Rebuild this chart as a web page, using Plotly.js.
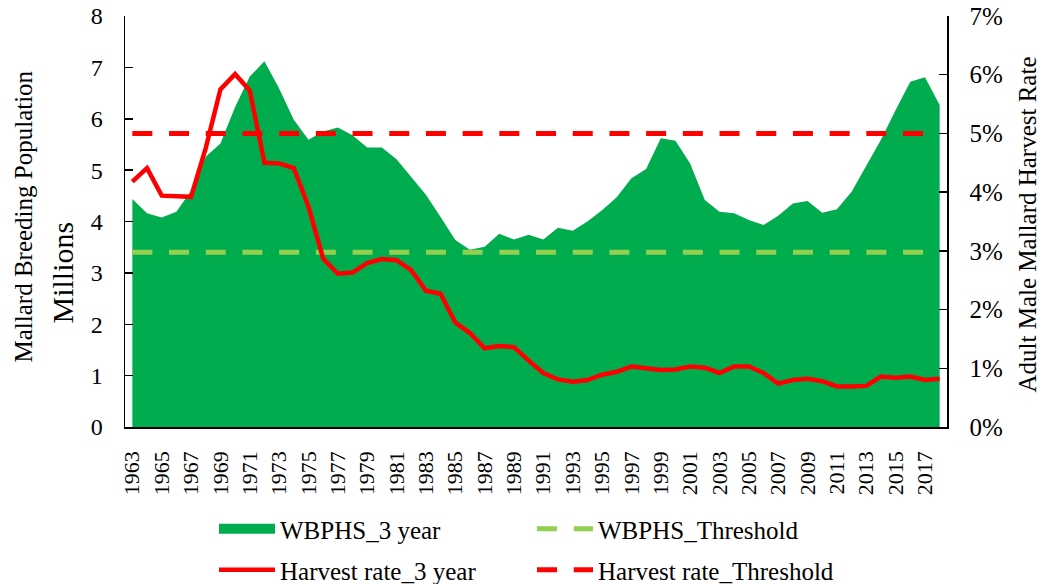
<!DOCTYPE html>
<html>
<head>
<meta charset="utf-8">
<script src="https://cdn.plot.ly/plotly-3.0.1.min.js"></script>
<style>html,body{margin:0;padding:0;background:#fff;}#chart{width:1039px;height:584px;}</style>
</head>
<body>
<div id="chart"></div>
<script>
// ---- data ----
const years = [1963,1964,1965,1966,1967,1968,1969,1970,1971,1972,1973,1974,1975,1976,1977,1978,1979,1980,1981,1982,1983,1984,1985,1986,1987,1988,1989,1990,1991,1992,1993,1994,1995,1996,1997,1998,1999,2000,2001,2002,2003,2004,2005,2006,2007,2008,2009,2010,2011,2012,2013,2014,2015,2016,2017,2018];
const wbphs3yr = [4.44,4.16,4.08,4.19,4.60,5.26,5.52,6.23,6.82,7.12,6.59,5.98,5.59,5.75,5.83,5.68,5.44,5.44,5.21,4.87,4.52,4.09,3.64,3.45,3.51,3.76,3.65,3.74,3.65,3.88,3.82,4.00,4.22,4.47,4.84,5.02,5.62,5.57,5.13,4.42,4.19,4.16,4.03,3.93,4.11,4.35,4.40,4.17,4.24,4.58,5.09,5.59,6.17,6.72,6.81,6.27];
const harvest3yr = [4.18,4.41,3.94,3.93,3.92,4.75,5.75,6.01,5.73,4.50,4.49,4.41,3.75,2.87,2.61,2.63,2.79,2.86,2.84,2.67,2.32,2.27,1.78,1.60,1.34,1.38,1.36,1.13,0.92,0.81,0.77,0.80,0.89,0.94,1.03,1.00,0.97,0.98,1.03,1.01,0.92,1.03,1.03,0.92,0.74,0.80,0.82,0.78,0.69,0.69,0.70,0.86,0.84,0.86,0.80,0.82];
const wbphsThreshold = 3.4;     // millions
const harvestThreshold = 5.0;   // percent
const xTickLabels = [1963,1965,1967,1969,1971,1973,1975,1977,1979,1981,1983,1985,1987,1989,1991,1993,1995,1997,1999,2001,2003,2005,2007,2009,2011,2013,2015,2017];
const leftTicks = [0,1,2,3,4,5,6,7,8];
const rightTicks = [0,1,2,3,4,5,6,7];
const rightTickLabels = ['0%','1%','2%','3%','4%','5%','6%','7%'];

const GREEN = '#00AC4E', LGREEN = '#92D050', RED = '#FF0000';
const FONT = '"Liberation Serif", "Times New Roman", serif';

const traces = [
  {x: years, y: wbphs3yr, type: 'scatter', mode: 'lines', fill: 'tozeroy',
   fillcolor: GREEN, line: {width: 0, color: GREEN}, showlegend: false, hoverinfo: 'skip'},
  {x: [null], y: [null], type: 'scatter', mode: 'lines', name: 'WBPHS_3 year',
   line: {width: 11, color: GREEN}, legend: 'legend'},
  {x: years, y: years.map(() => wbphsThreshold), type: 'scatter', mode: 'lines', name: 'WBPHS_Threshold',
   line: {width: 5, color: LGREEN, dash: '20px,16.7px'}, legend: 'legend'},
  {x: years, y: harvest3yr, type: 'scatter', mode: 'lines', name: 'Harvest rate_3 year', yaxis: 'y2',
   line: {width: 4.5, color: RED}, legend: 'legend2'},
  {x: years, y: years.map(() => harvestThreshold), type: 'scatter', mode: 'lines', name: 'Harvest rate_Threshold', yaxis: 'y2',
   line: {width: 5, color: RED, dash: '20px,16.7px'}, legend: 'legend2'}
];

const legendCommon = {
  orientation: 'h', xref: 'container', yref: 'container', xanchor: 'left', yanchor: 'middle',
  font: {family: FONT, size: 25, color: '#000'}, bgcolor: 'rgba(0,0,0,0)',
  entrywidth: 247, entrywidthmode: 'pixels', itemwidth: 56, tracegroupgap: 0
};

const layout = {
  width: 1039, height: 584,
  margin: {l: 125, r: 92, t: 16, b: 157},
  paper_bgcolor: '#fff', plot_bgcolor: '#fff',
  font: {family: FONT, color: '#000'},
  xaxis: {
    range: [1962.5, 2018.5], tickmode: 'array', tickvals: xTickLabels, ticktext: xTickLabels.map(String),
    tickangle: -90, ticks: '', showgrid: false, zeroline: false,
    showline: true, linecolor: '#000', linewidth: 1.5,
    tickfont: {family: FONT, size: 22, color: '#000'}, ticklabelstandoff: 14
  },
  yaxis: {
    range: [0, 8], tickmode: 'array', tickvals: leftTicks, ticks: 'inside', ticklen: 8, tickwidth: 1.5, tickcolor: '#000',
    showgrid: false, zeroline: false, showline: true, linecolor: '#000', linewidth: 1.5,
    tickfont: {family: FONT, size: 24, color: '#000'}, ticklabelstandoff: 16
  },
  yaxis2: {
    range: [0, 7], overlaying: 'y', side: 'right', tickmode: 'array', tickvals: rightTicks, ticktext: rightTickLabels,
    ticks: 'inside', ticklen: 8, tickwidth: 1.5, tickcolor: '#000',
    showgrid: false, zeroline: false, showline: true, linecolor: '#000', linewidth: 1.5,
    tickfont: {family: FONT, size: 25, color: '#000'}, ticklabelstandoff: 16
  },
  legend: Object.assign({}, legendCommon, {x: 214/1039, y: 1 - 529/584}),
  legend2: Object.assign({}, legendCommon, {x: 214/1039, y: 1 - 570/584}),
  annotations: [
    {text: 'Mallard Breeding Population', xref: 'paper', yref: 'paper', x: (23-125)/822, y: (427-216.5)/411,
     textangle: -90, showarrow: false, xanchor: 'center', yanchor: 'middle', font: {family: FONT, size: 25, color: '#000'}},
    {text: 'Millions', xref: 'paper', yref: 'paper', x: (62-125)/822, y: (427-272.5)/411,
     textangle: -90, showarrow: false, xanchor: 'center', yanchor: 'middle', font: {family: FONT, size: 30, color: '#000'}},
    {text: 'Adult Male Mallard Harvest Rate', xref: 'paper', yref: 'paper', x: (1027-125)/822, y: (427-224.5)/411,
     textangle: -90, showarrow: false, xanchor: 'center', yanchor: 'middle', font: {family: FONT, size: 25, color: '#000'}}
  ]
};

Plotly.newPlot('chart', traces, layout, {displayModeBar: false, staticPlot: true});
</script>
</body>
</html>
